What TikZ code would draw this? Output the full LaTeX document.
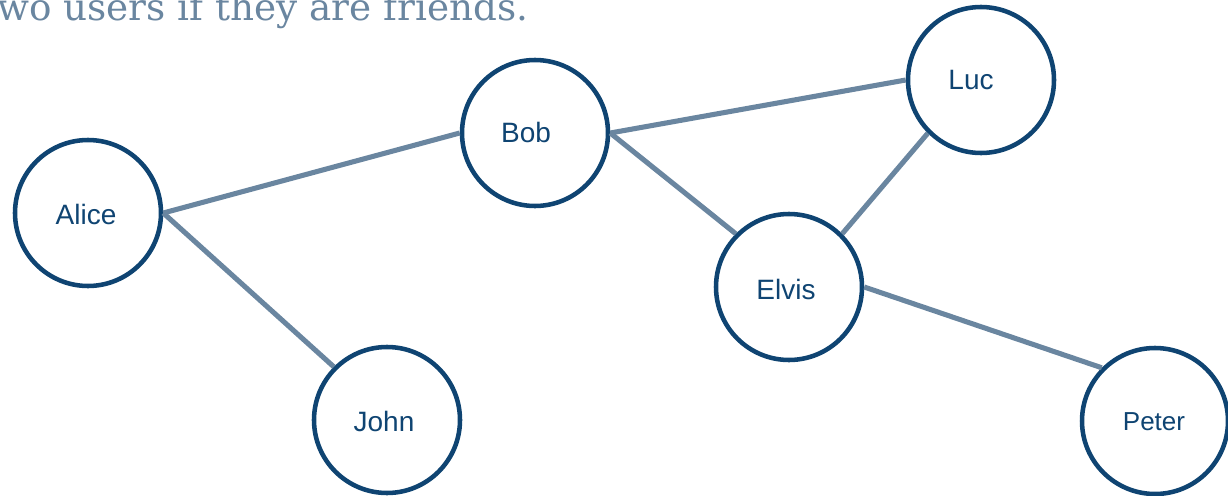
\documentclass[tikz,border=0pt]{standalone}
\usepackage{fontspec}
\setmainfont{DejaVu Serif}
\newfontfamily\lblfont{Liberation Sans}
\definecolor{nodeblue}{HTML}{0F4472}
\definecolor{edgegray}{HTML}{6A86A0}
\begin{document}
\begin{tikzpicture}[x=0.75pt,y=-0.75pt,
  person/.style={circle,draw=nodeblue,line width=3.4pt,minimum size=146*0.75pt,inner sep=0pt},
  lbl/.style={text=nodeblue,inner sep=0pt,font=\lblfont\fontsize{21}{24}\selectfont},
  link/.style={draw=edgegray,line width=3.8pt}]
\useasboundingbox (0,0) rectangle (1228,496);
\begin{scope}
\clip (0,0) rectangle (1228,496);
\node[anchor=base west,inner sep=0pt,text=edgegray,font=\fontsize{28}{32}\selectfont] (title) at (-3,21) {wo users if they are friends.};
\node[person] (alice) at (88,213) {};
\node[person] (bob) at (535,133) {};
\node[person] (luc) at (981,80) {};
\node[person] (elvis) at (789,287) {};
\node[person] (john) at (387,420) {};
\node[person] (peter) at (1155,421) {};
\node[lbl] (alicet) at (86,214) {Alice};
\node[lbl] (bobt) at (526,132) {Bob};
\node[lbl] (luct) at (971,80) {Luc};
\node[lbl] (elvist) at (786,289) {Elvis};
\node[lbl] (johnt) at (384,421) {John};
\node[lbl,font=\lblfont\fontsize{19.5}{22}\selectfont] (petert) at (1154,422) {Peter};
\draw[link] (alice.east) -- (bob.west);
\draw[link] (alice.east) -- (john.135);
\draw[link] (bob.east) -- (luc.west);
\draw[link] (bob.east) -- (elvis.135);
\draw[link] (elvis.45) -- (luc.225);
\draw[link] (elvis.east) -- (peter.135);
\end{scope}
\end{tikzpicture}
\end{document}
